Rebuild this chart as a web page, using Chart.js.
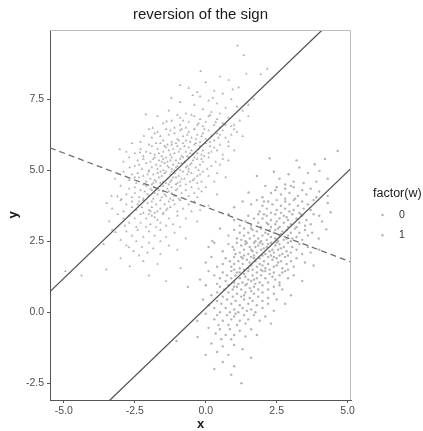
<!DOCTYPE html>
<html><head><meta charset="utf-8">
<script src="https://cdn.jsdelivr.net/npm/chart.js@4/dist/chart.umd.min.js"></script>
<style>html,body{margin:0;padding:0;background:#fff}#wrap{width:423px;height:431px}</style>
</head><body><div id="wrap"><canvas id="c" width="423" height="431"></canvas></div>
<script>
// Scatter of y against x for the two groups of w, with the within-group fits
// (solid, parallel) and the pooled fit (dashed) whose slope has the opposite sign.
const titleText = 'reversion of the sign';
const legendTitle = 'factor(w)';
const groupLabels = ['0', '1'];

// group w = 0 (circles)
const pointsW0 = [
[4.65,5.68],[3.84,5.21],[4.01,4.98],[2.92,4.86],[2.25,5.42],[3.3,5.1],[3.6,4.9],[2.6,4.7],[3.1,4.6],[4.3,4.7],[3.45,4.55],[2.8,4.5],[3.9,4.6],[1.8,4.8],[2.4,4.95],[3.2,5.35],[4.2,5.4],
[1.51,4.22],[2.1,4.45],[2.5,4.4],[2.8,4.35],[3.1,4.4],[3.4,4.3],[3.7,4.35],[4.0,4.25],[2.3,4.2],[2.65,4.15],[2.95,4.2],[3.25,4.1],[3.55,4.15],[3.9,4.05],[2.0,4.05],[2.8,4.0],[3.15,4.0],[4.3,4.1],[2.45,4.3],[3.0,4.45],
[1.3,3.9],[1.8,3.95],[2.2,3.9],[2.5,3.95],[2.8,3.9],[3.1,3.95],[3.4,3.9],[3.8,3.95],[4.3,3.85],[1.6,3.8],[2.0,3.75],[2.35,3.8],[2.65,3.75],[2.95,3.8],[3.25,3.75],[3.6,3.8],[2.15,3.65],[2.5,3.6],[2.8,3.65],[3.1,3.6],[3.45,3.65],[1.9,3.55],[2.3,3.5],[2.65,3.5],[2.95,3.55],[3.3,3.5],[4.4,3.52],[1.0,3.7],[3.7,3.6],[2.05,3.9],
[0.8,3.45],[1.5,3.4],[1.85,3.45],[2.15,3.4],[2.45,3.45],[2.75,3.4],[3.05,3.45],[3.4,3.4],[3.8,3.45],[1.7,3.3],[2.0,3.3],[2.3,3.25],[2.6,3.3],[2.9,3.25],[3.2,3.3],[3.55,3.25],[1.4,3.2],[1.85,3.15],[2.15,3.15],[2.45,3.1],[2.75,3.15],[3.0,3.1],[3.3,3.15],[3.7,3.1],[1.6,3.05],[1.95,3.0],[2.3,3.0],[2.6,3.0],[2.9,3.0],[3.2,3.0],[4.1,3.2],[1.2,3.05],[2.5,3.2],[2.05,3.45],[3.5,3.05],[2.85,3.35],[1.0,3.25],[4.0,3.4],[2.2,3.1],[3.35,3.45],
[0.5,2.95],[1.0,2.9],[1.35,2.95],[1.65,2.9],[1.95,2.95],[2.25,2.9],[2.55,2.95],[2.85,2.9],[3.15,2.95],[3.5,2.9],[1.2,2.8],[1.5,2.8],[1.8,2.85],[2.1,2.8],[2.4,2.8],[2.7,2.85],[3.0,2.8],[3.3,2.8],[3.75,2.8],[1.35,2.7],[1.7,2.7],[2.0,2.7],[2.3,2.65],[2.6,2.7],[2.9,2.7],[3.2,2.65],[4.25,2.92],[1.1,2.6],[1.55,2.6],[1.85,2.6],[2.15,2.55],[2.45,2.6],[2.75,2.55],[3.05,2.6],[3.98,2.6],[0.23,2.51],[1.4,2.5],[1.95,2.5],[2.55,2.5],[3.4,2.55],[2.2,2.75],[2.85,2.6],[1.6,2.95],[3.6,2.7],[0.8,2.7],[2.45,2.9],[2.65,2.75],[1.25,2.55],[3.0,2.5],[1.75,2.5],
[0.3,2.45],[0.8,2.4],[1.1,2.45],[1.4,2.4],[1.7,2.45],[2.0,2.4],[2.3,2.45],[2.6,2.4],[2.9,2.45],[3.3,2.4],[0.95,2.3],[1.25,2.35],[1.55,2.3],[1.85,2.35],[2.15,2.3],[2.45,2.35],[2.75,2.3],[3.05,2.3],[3.6,2.3],[1.0,2.2],[1.35,2.2],[1.65,2.15],[1.95,2.2],[2.25,2.15],[2.55,2.2],[2.85,2.15],[3.2,2.2],[0.6,2.15],[1.2,2.1],[1.5,2.05],[1.8,2.1],[2.1,2.05],[2.4,2.1],[2.7,2.05],[3.0,2.1],[4.0,2.2],[1.35,2.0],[1.7,2.0],[2.0,2.0],[2.3,2.0],[2.6,2.0],[3.4,2.05],[0.1,2.3],[1.45,2.45],[2.05,2.25],[2.65,2.25],[1.75,2.3],[2.35,2.2],[1.05,2.05],[2.9,2.0],[1.9,2.45],[2.5,2.45],[3.7,2.1],[1.6,2.2],[2.2,2.4],
[0.2,1.95],[0.7,1.9],[1.0,1.95],[1.3,1.9],[1.6,1.95],[1.9,1.9],[2.2,1.95],[2.5,1.9],[2.8,1.95],[3.2,1.9],[0.85,1.8],[1.15,1.8],[1.45,1.85],[1.75,1.8],[2.05,1.8],[2.35,1.85],[2.65,1.8],[3.0,1.8],[0.6,1.7],[1.0,1.7],[1.3,1.7],[1.6,1.65],[1.9,1.7],[2.2,1.7],[2.5,1.65],[2.85,1.7],[3.5,1.75],[0.9,1.6],[1.2,1.55],[1.5,1.55],[1.8,1.6],[2.1,1.55],[2.4,1.6],[2.7,1.55],[3.1,1.6],[1.0,1.5],[1.35,1.5],[1.65,1.5],[1.95,1.5],[2.25,1.5],[0.4,1.6],[2.55,1.75],[1.55,1.75],[2.0,1.65],[1.25,1.95],[2.4,1.95],[3.8,1.65],[0.0,1.75],[2.9,1.5],[1.7,1.9],
[0.1,1.45],[0.6,1.4],[0.9,1.45],[1.2,1.4],[1.5,1.45],[1.8,1.4],[2.1,1.45],[2.4,1.4],[2.8,1.45],[0.75,1.3],[1.05,1.3],[1.35,1.35],[1.65,1.3],[1.95,1.3],[2.25,1.35],[2.6,1.3],[3.1,1.3],[0.5,1.2],[0.9,1.2],[1.2,1.2],[1.5,1.15],[1.8,1.2],[2.1,1.2],[2.45,1.15],[2.9,1.2],[0.7,1.1],[1.0,1.05],[1.3,1.05],[1.6,1.1],[1.9,1.05],[2.2,1.05],[2.6,1.05],[0.4,1.0],[1.15,1.0],[1.45,1.0],[1.75,1.0],[3.4,1.1],[1.4,1.25],[2.0,1.45],[0.3,1.3],[2.35,1.25],[1.1,1.4],[1.7,1.15],[2.7,1.4],[-0.2,1.15],
[0.0,0.95],[0.5,0.9],[0.8,0.95],[1.1,0.9],[1.4,0.95],[1.7,0.9],[2.0,0.95],[2.4,0.9],[0.65,0.8],[0.95,0.8],[1.25,0.8],[1.55,0.85],[1.85,0.8],[2.2,0.8],[2.7,0.8],[0.4,0.7],[0.8,0.7],[1.1,0.65],[1.4,0.7],[1.7,0.65],[2.0,0.7],[2.4,0.65],[0.6,0.55],[0.95,0.55],[1.25,0.55],[1.55,0.5],[1.85,0.55],[2.2,0.5],[3.0,0.6],[-0.63,0.89],[1.0,0.9],[1.35,0.6],[0.2,0.6],[2.6,0.95],[1.6,0.75],
[-0.1,0.45],[0.4,0.4],[0.75,0.45],[1.05,0.4],[1.35,0.45],[1.65,0.4],[2.0,0.4],[2.5,0.45],[0.55,0.3],[0.9,0.3],[1.2,0.25],[1.5,0.3],[1.8,0.25],[2.2,0.3],[0.3,0.15],[0.7,0.15],[1.0,0.1],[1.3,0.15],[1.6,0.1],[2.0,0.15],[0.5,0.0],[0.85,0.0],[1.15,0.0],[1.45,0.05],[2.4,0.05],[0.1,0.25],[1.75,0.0],[2.8,0.3],
[0.0,-0.05],[0.4,-0.1],[0.75,-0.1],[1.05,-0.05],[1.35,-0.1],[1.7,-0.1],[2.1,-0.15],[0.3,-0.25],[0.6,-0.3],[0.9,-0.25],[1.2,-0.3],[1.5,-0.25],[1.9,-0.3],[0.45,-0.45],[0.8,-0.45],[1.1,-0.45],[1.4,-0.4],[2.3,-0.4],[-0.3,-0.3],[1.0,-0.15],
[0.1,-0.55],[0.5,-0.6],[0.85,-0.6],[1.2,-0.65],[1.6,-0.6],[0.35,-0.75],[0.7,-0.8],[1.0,-0.8],[1.4,-0.85],[-0.29,-0.87],[0.55,-0.95],[0.9,-0.95],[1.8,-0.8],[-1.03,-1.01],
[0.2,-1.1],[0.6,-1.2],[1.0,-1.15],[0.4,-1.4],[0.8,-1.5],[1.3,-1.3],[0.0,-1.5],[0.6,-1.75],[1.0,-1.9],[1.6,-1.6],[0.3,-2.0],[1.26,-2.5],[0.9,-2.2]
];

// group w = 1 (triangles)
const pointsW1 = [
[1.12,9.39],[1.34,9.05],[1.94,8.38],[2.17,8.57],[1.43,8.4],[0.81,8.18],[-0.18,8.49],[1.16,7.92],[1.69,7.51],[-0.46,7.64],[-1.21,7.55],[-2.11,6.97],[-1.38,6.72],[-1.87,6.49],[-2.18,6.21],[-3.03,5.74],[-2.32,5.63],
[-3.49,3.84],[-3.32,4.1],[-3.11,4.08],[-2.97,3.98],[-2.68,5.1],[-3.5,1.51],[-2.68,1.62],[-0.89,1.55],[-2.71,2.29],[-3.18,2.82],[-4.38,1.3],[-4.95,1.45],
[-0.6,7.9],[0.3,7.8],[0.6,7.7],[-0.2,7.6],[0.9,7.5],[0.1,7.45],[-0.9,7.4],[0.4,7.35],[-0.4,7.3],[1.1,7.25],[0.7,7.2],[-0.1,7.15],[-1.3,7.1],[0.2,7.05],[-0.7,7.0],[0.5,7.0],[1.3,7.1],[-0.3,7.75],[0.0,8.1],[0.5,8.3],[-0.9,8.0],[0.95,7.85],[1.5,7.3],[0.25,7.55],
[-1.7,6.9],[-0.5,6.95],[0.1,6.9],[0.8,6.85],[-0.9,6.85],[-0.2,6.8],[0.4,6.8],[1.2,6.75],[-1.2,6.75],[-0.6,6.7],[0.0,6.7],[0.6,6.65],[-1.5,6.65],[-0.3,6.6],[0.3,6.6],[-0.9,6.6],[0.9,6.55],[-0.1,6.55],[-0.7,6.5],[0.5,6.5],[-1.1,6.5],[0.15,6.95],[-0.4,6.9],[-1.0,6.95],[0.7,6.6],[1.5,6.9],[-0.25,6.65],[-0.8,6.75],[0.35,6.7],[1.0,6.6],
[-2.0,6.45],[-1.4,6.45],[-0.9,6.4],[-0.4,6.45],[0.1,6.4],[0.6,6.4],[1.1,6.35],[-1.7,6.35],[-1.1,6.3],[-0.6,6.35],[-0.1,6.3],[0.4,6.3],[0.9,6.25],[-1.3,6.25],[-0.8,6.2],[-0.3,6.25],[0.2,6.2],[0.7,6.15],[-1.9,6.15],[-1.0,6.1],[-0.5,6.15],[0.0,6.1],[-1.5,6.05],[-0.7,6.05],[-0.2,6.0],[0.3,6.05],[-1.2,6.0],[0.8,6.0],[-0.4,6.45],[-1.6,6.2],[-0.05,6.45],[0.5,6.25],[-0.95,6.05],[-0.35,6.1],[-2.3,6.0],[1.3,6.2],[-1.25,6.4],[-0.65,6.25],[0.15,6.0],[-0.85,6.45],[0.45,6.15],[-1.8,6.3],[-0.15,6.2],[-0.55,6.0],[1.0,6.45],
[-2.6,5.95],[-2.0,5.9],[-1.6,5.95],[-1.2,5.9],[-0.8,5.95],[-0.4,5.9],[0.0,5.95],[0.5,5.9],[-1.9,5.85],[-1.4,5.8],[-1.0,5.85],[-0.6,5.8],[-0.2,5.85],[0.3,5.8],[0.8,5.85],[-2.3,5.75],[-1.7,5.75],[-1.3,5.7],[-0.9,5.75],[-0.5,5.7],[-0.1,5.7],[0.4,5.7],[-2.1,5.65],[-1.5,5.65],[-1.1,5.6],[-0.7,5.65],[-0.3,5.6],[0.1,5.6],[-1.8,5.55],[-1.25,5.55],[-0.85,5.5],[-0.45,5.55],[0.6,5.55],[-2.5,5.6],[-1.55,5.5],[-0.05,5.5],[-1.05,5.95],[-0.25,5.75],[-1.65,5.6],[-0.75,5.85],[0.2,5.65],[-1.35,5.9],[-0.55,5.6],[-2.2,5.5],[1.0,5.7],[-0.95,5.65],[-1.15,5.75],[-0.65,5.5],[-1.45,5.85],[0.15,5.85],[-0.35,5.95],[-2.8,5.65],[-1.75,5.95],[-0.15,5.55],[-1.95,5.6],
[-2.7,5.45],[-2.2,5.4],[-1.8,5.45],[-1.5,5.4],[-1.2,5.45],[-0.9,5.4],[-0.6,5.45],[-0.3,5.4],[0.1,5.45],[0.6,5.4],[-2.4,5.35],[-1.95,5.3],[-1.65,5.35],[-1.35,5.3],[-1.05,5.35],[-0.75,5.3],[-0.45,5.35],[-0.1,5.3],[0.35,5.3],[-2.1,5.25],[-1.75,5.2],[-1.45,5.25],[-1.15,5.2],[-0.85,5.25],[-0.55,5.2],[-0.2,5.2],[0.2,5.15],[-2.5,5.15],[-1.9,5.1],[-1.6,5.15],[-1.3,5.1],[-1.0,5.15],[-0.7,5.1],[-0.35,5.1],[0.05,5.05],[-2.25,5.05],[-1.5,5.0],[-1.2,5.05],[-0.9,5.0],[-0.6,5.05],[-0.25,5.0],[-1.7,5.05],[-2.0,5.0],[-1.4,5.45],[-0.95,5.25],[-1.25,5.35],[-0.65,5.15],[-1.85,5.4],[-1.1,5.0],[-0.4,5.45],[0.5,5.2],[-2.9,5.3],[-1.55,5.3],[-0.8,5.45],[-1.35,5.15],[-0.15,5.4],[0.8,5.35],[-2.35,5.2],[-1.05,5.1],[-0.5,5.25],
[-2.9,4.95],[-2.4,4.9],[-2.0,4.95],[-1.7,4.9],[-1.4,4.95],[-1.1,4.9],[-0.8,4.95],[-0.5,4.9],[-0.1,4.95],[0.4,4.9],[-2.6,4.85],[-2.2,4.8],[-1.85,4.85],[-1.55,4.8],[-1.25,4.85],[-0.95,4.8],[-0.65,4.85],[-0.3,4.8],[0.1,4.8],[-2.35,4.75],[-1.95,4.7],[-1.65,4.75],[-1.35,4.7],[-1.05,4.75],[-0.75,4.7],[-0.4,4.7],[-2.7,4.65],[-2.1,4.6],[-1.8,4.65],[-1.5,4.6],[-1.2,4.65],[-0.9,4.6],[-0.55,4.6],[-0.15,4.6],[-2.45,4.55],[-1.9,4.5],[-1.6,4.55],[-1.3,4.5],[-1.0,4.55],[-0.7,4.5],[-0.3,4.55],[-2.2,4.5],[0.3,4.6],[-1.45,4.9],[-1.15,4.75],[-1.75,4.6],[-0.85,4.7],[-2.05,4.85],[-1.4,4.55],[-0.6,4.95],[-3.2,4.7],[-1.25,4.6],[-0.2,4.85],[-1.6,4.95],[-2.5,4.75],[-1.05,4.5],[-0.45,4.65],[0.7,4.75],[-1.85,4.55],[-1.2,4.95],
[-3.0,4.45],[-2.5,4.4],[-2.1,4.45],[-1.8,4.4],[-1.5,4.45],[-1.2,4.4],[-0.9,4.45],[-0.5,4.4],[0.0,4.4],[-2.7,4.35],[-2.3,4.3],[-1.95,4.35],[-1.65,4.3],[-1.35,4.35],[-1.05,4.3],[-0.7,4.3],[-0.25,4.35],[-2.5,4.2],[-2.15,4.25],[-1.8,4.2],[-1.5,4.25],[-1.2,4.2],[-0.85,4.2],[-0.4,4.2],[-2.8,4.15],[-2.0,4.1],[-1.7,4.15],[-1.4,4.1],[-1.1,4.1],[-0.6,4.1],[-2.35,4.05],[-1.85,4.0],[-1.55,4.05],[-1.25,4.0],[-0.95,4.0],[-2.2,4.0],[0.4,4.15],[-1.6,4.45],[-1.3,4.25],[-2.6,4.05],[-0.3,4.05],[-1.9,4.3],[-1.0,4.35],[-2.05,4.15],[-1.45,4.15],[-0.15,4.25],
[-3.0,3.95],[-2.6,3.9],[-2.2,3.95],[-1.9,3.9],[-1.6,3.95],[-1.3,3.9],[-0.9,3.95],[-0.4,3.9],[-2.8,3.8],[-2.4,3.8],[-2.05,3.85],[-1.75,3.8],[-1.45,3.8],[-1.1,3.8],[-0.6,3.8],[-2.6,3.7],[-2.25,3.7],[-1.9,3.7],[-1.6,3.65],[-1.25,3.7],[-0.8,3.65],[-2.45,3.6],[-2.0,3.6],[-1.7,3.55],[-1.4,3.6],[-1.0,3.55],[-2.2,3.5],[-1.8,3.5],[-0.2,3.6],[-2.9,3.55],[-1.5,3.5],[-1.15,3.95],[-2.35,3.9],[0.1,3.75],[-0.5,3.55],[-3.3,3.65],[-1.95,3.55],[-1.35,3.65],
[-3.1,3.45],[-2.7,3.4],[-2.3,3.45],[-1.9,3.4],[-1.5,3.45],[-1.0,3.4],[-2.9,3.3],[-2.5,3.3],[-2.1,3.3],[-1.7,3.25],[-1.3,3.3],[-0.7,3.3],[-2.7,3.15],[-2.3,3.15],[-1.95,3.1],[-1.6,3.15],[-1.15,3.1],[-2.45,3.0],[-2.1,3.0],[-1.75,3.0],[-1.4,3.05],[-0.9,3.0],[-3.4,3.2],[-2.0,3.45],[-0.3,3.2],[-2.85,3.05],[-1.8,3.35],
[-3.3,2.9],[-2.8,2.85],[-2.4,2.9],[-2.0,2.85],[-1.6,2.9],[-1.1,2.8],[-2.6,2.7],[-2.2,2.65],[-1.8,2.7],[-1.4,2.65],[-3.0,2.55],[-2.45,2.5],[-2.0,2.45],[-1.6,2.5],[-2.8,2.35],[-2.25,2.3],[-1.85,2.25],[-1.3,2.35],[-2.55,2.15],[-2.05,2.1],[-1.6,2.05],[-3.6,2.4],[-0.7,2.6],[-2.35,2.0],[-1.0,2.2],
[-2.2,1.8],[-1.7,1.7],[-2.0,1.3],[-1.4,1.1],[-3.0,1.9]
];

const xTicks = [-5, -2.5, 0, 2.5, 5];
const yTicks = [-2.5, 0, 2.5, 5, 7.5];
const xRange = [-5.49, 5.12];
const yRange = [-3.09, 9.94];

// fitted lines: within w = 1, within w = 0, pooled over both groups
const fitSlopes = [0.96, 0.96, -0.379];
const fitIntercepts = [6.0, 0.15, 3.71];
const fitDash = [[], [], [6, 4]];

const FONT = "'Liberation Sans', Arial, Helvetica, sans-serif";
const POINT_COL = '#b4b4b4';

function fitLine(i) {
  return xRange.map(x => ({ x: x, y: fitIntercepts[i] + fitSlopes[i] * x }));
}

const toXY = arr => arr.map(p => ({ x: p[0], y: p[1] }));

const datasets = [
  { type: 'scatter', label: groupLabels[0], data: toXY(pointsW0), pointStyle: 'circle',
    pointRadius: 1.2, pointBackgroundColor: POINT_COL, pointBorderWidth: 0, clip: 0, order: 2 },
  { type: 'scatter', label: groupLabels[1], data: toXY(pointsW1), pointStyle: 'triangle',
    pointRadius: 1.6, pointBackgroundColor: POINT_COL, pointBorderWidth: 0, clip: 0, order: 2 }
];
fitSlopes.forEach((m, i) => {
  datasets.push({ type: 'line', label: 'fit' + i, data: fitLine(i), borderColor: i < 2 ? '#555555' : '#707070',
    borderWidth: 1.3, borderDash: fitDash[i], pointRadius: 0, fill: false, clip: 0, order: 1 });
});

const decorations = {
  id: 'decorations',
  afterDraw(chart) {
    const ctx = chart.ctx, a = chart.chartArea;
    ctx.save();
    // panel top/right edges
    ctx.strokeStyle = '#bdbdbd'; ctx.lineWidth = 1;
    ctx.beginPath();
    ctx.moveTo(a.left, a.top + 0.5); ctx.lineTo(a.right - 0.5, a.top + 0.5); ctx.lineTo(a.right - 0.5, a.bottom);
    ctx.stroke();
    // title
    ctx.fillStyle = '#1a1a1a';
    ctx.font = '15px ' + FONT;
    ctx.textAlign = 'center'; ctx.textBaseline = 'middle';
    ctx.fillText(titleText, (a.left + a.right) / 2, 15);
    // axis titles
    ctx.font = 'bold 13px ' + FONT;
    ctx.fillText('x', (a.left + a.right) / 2, 424);
    ctx.save();
    ctx.translate(13, (a.top + a.bottom) / 2);
    ctx.rotate(-Math.PI / 2);
    ctx.fillText('y', 0, 0);
    ctx.restore();
    // legend
    ctx.textAlign = 'left';
    ctx.font = '12.5px ' + FONT;
    ctx.fillStyle = '#1a1a1a';
    ctx.fillText(legendTitle, 373, 194);
    ctx.font = '10.5px ' + FONT;
    ctx.fillStyle = '#333333';
    const keyX = 382.5, keyY = [215, 235];
    ctx.fillText(groupLabels[0], 399, keyY[0]);
    ctx.fillText(groupLabels[1], 399, keyY[1]);
    ctx.fillStyle = POINT_COL;
    ctx.beginPath(); ctx.arc(keyX, keyY[0], 1.3, 0, Math.PI * 2); ctx.fill();
    const r = 1.7;
    ctx.beginPath();
    ctx.moveTo(keyX, keyY[1] - r * 1.1);
    ctx.lineTo(keyX + r, keyY[1] + r * 0.7);
    ctx.lineTo(keyX - r, keyY[1] + r * 0.7);
    ctx.closePath(); ctx.fill();
    ctx.restore();
  }
};

const tickFont = { family: FONT, size: 10.5 };

new Chart(document.getElementById('c'), {
  data: { datasets },
  options: {
    responsive: false, animation: false, devicePixelRatio: 1,
    layout: { padding: { top: 30, right: 72, left: 0, bottom: 0 } },
    plugins: { legend: { display: false }, title: { display: false }, tooltip: { enabled: false } },
    scales: {
      x: {
        type: 'linear', position: 'bottom', min: xRange[0], max: xRange[1],
        afterBuildTicks: s => { s.ticks = xTicks.map(v => ({ value: v })); },
        afterFit: s => { s.height = 31; },
        ticks: { font: tickFont, color: '#4d4d4d', padding: 2, maxRotation: 0, autoSkip: false,
                 callback: v => v.toFixed(1) },
        grid: { display: true, drawOnChartArea: false, drawTicks: true, tickLength: 3, color: '#555555' },
        border: { display: true, color: '#555555', width: 1 }
      },
      y: {
        type: 'linear', position: 'left', min: yRange[0], max: yRange[1],
        afterBuildTicks: s => { s.ticks = yTicks.map(v => ({ value: v })); },
        afterFit: s => { s.width = 50; },
        ticks: { font: tickFont, color: '#4d4d4d', padding: 3, autoSkip: false,
                 callback: v => v.toFixed(1) },
        grid: { display: true, drawOnChartArea: false, drawTicks: true, tickLength: 3, color: '#555555' },
        border: { display: true, color: '#555555', width: 1 }
      }
    }
  },
  plugins: [decorations]
});
</script>
</body></html>
